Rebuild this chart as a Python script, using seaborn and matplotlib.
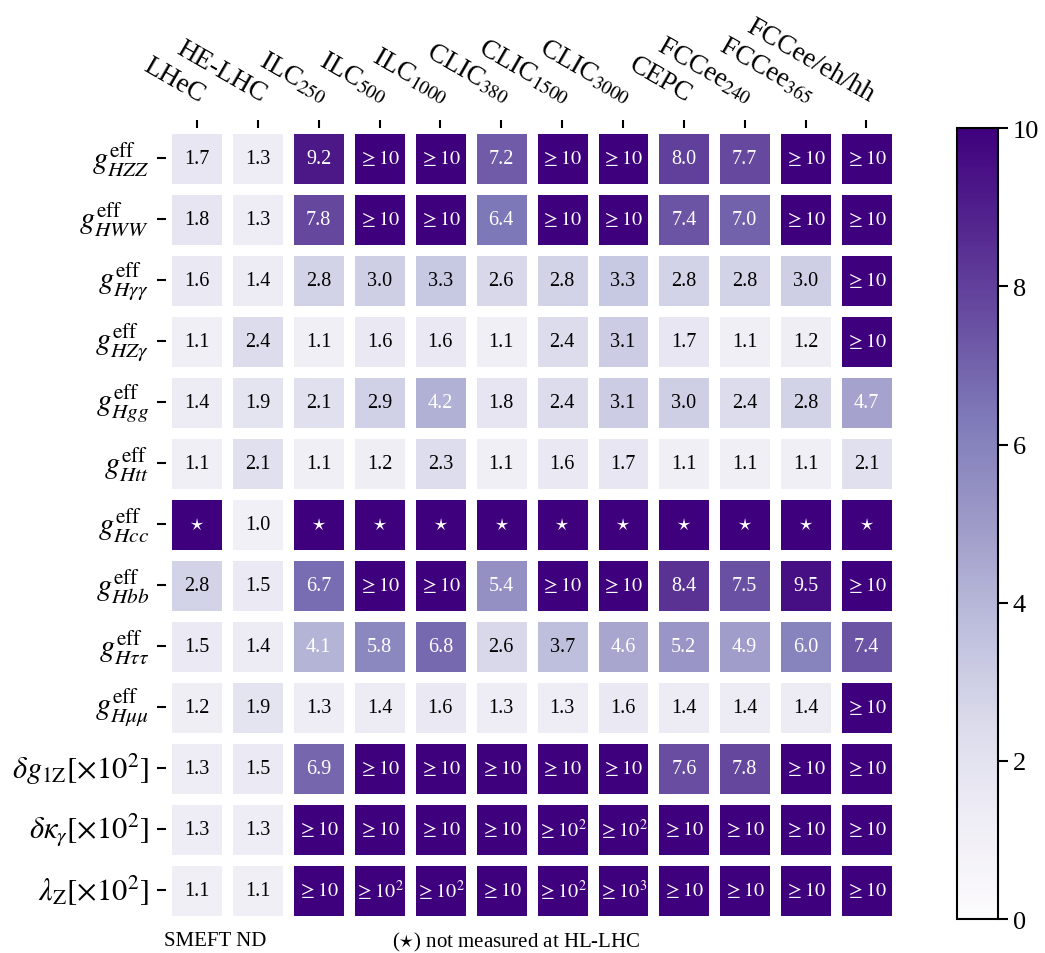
import numpy as np
import pandas as pd
import matplotlib
matplotlib.use('Agg')
import matplotlib.pyplot as plt
import seaborn as sns

plt.rcParams['font.family'] = ['Liberation Serif', 'DejaVu Serif']
plt.rcParams['mathtext.fontset'] = 'stix'

# colliders (columns)
colliders = ['LHeC', 'HE-LHC', r'ILC$_{250}$', r'ILC$_{500}$', r'ILC$_{1000}$',
             r'CLIC$_{380}$', r'CLIC$_{1500}$', r'CLIC$_{3000}$', 'CEPC',
             r'FCCee$_{240}$', r'FCCee$_{365}$', 'FCCee/eh/hh']

# couplings (rows)
couplings = [r'$g^{\rm eff}_{HZZ}$', r'$g^{\rm eff}_{HWW}$', r'$g^{\rm eff}_{H\gamma\gamma}$',
             r'$g^{\rm eff}_{HZ\gamma}$', r'$g^{\rm eff}_{Hgg}$', r'$g^{\rm eff}_{Htt}$',
             r'$g^{\rm eff}_{Hcc}$', r'$g^{\rm eff}_{Hbb}$', r'$g^{\rm eff}_{H\tau\tau}$',
             r'$g^{\rm eff}_{H\mu\mu}$', r'$\delta g_{\rm 1Z}[\times 10^2]$',
             r'$\delta \kappa_{\gamma}[\times 10^2]$', r'$\lambda_{\rm Z}[\times 10^2]$']

# improvement factor w.r.t. HL-LHC; 10/100/1000 mean ">= 10", ">= 10^2", ">= 10^3"
# nan = not measured at HL-LHC
N = np.nan
g_HZZ  = [1.7, 1.3, 9.2, 10, 10, 7.2, 10, 10, 8.0, 7.7, 10, 10]
g_HWW  = [1.8, 1.3, 7.8, 10, 10, 6.4, 10, 10, 7.4, 7.0, 10, 10]
g_Haa  = [1.6, 1.4, 2.8, 3.0, 3.3, 2.6, 2.8, 3.3, 2.8, 2.8, 3.0, 10]
g_HZa  = [1.1, 2.4, 1.1, 1.6, 1.6, 1.1, 2.4, 3.1, 1.7, 1.1, 1.2, 10]
g_Hgg  = [1.4, 1.9, 2.1, 2.9, 4.2, 1.8, 2.4, 3.1, 3.0, 2.4, 2.8, 4.7]
g_Htt  = [1.1, 2.1, 1.1, 1.2, 2.3, 1.1, 1.6, 1.7, 1.1, 1.1, 1.1, 2.1]
g_Hcc  = [N, 1.0, N, N, N, N, N, N, N, N, N, N]
g_Hbb  = [2.8, 1.5, 6.7, 10, 10, 5.4, 10, 10, 8.4, 7.5, 9.5, 10]
g_Htau = [1.5, 1.4, 4.1, 5.8, 6.8, 2.6, 3.7, 4.6, 5.2, 4.9, 6.0, 7.4]
g_Hmu  = [1.2, 1.9, 1.3, 1.4, 1.6, 1.3, 1.3, 1.6, 1.4, 1.4, 1.4, 10]
dg1Z   = [1.3, 1.5, 6.9, 10, 10, 10, 10, 10, 7.6, 7.8, 10, 10]
dkg    = [1.3, 1.3, 10, 10, 10, 10, 100, 100, 10, 10, 10, 10]
lamZ   = [1.1, 1.1, 10, 100, 100, 10, 100, 1000, 10, 10, 10, 10]

rows = [g_HZZ, g_HWW, g_Haa, g_HZa, g_Hgg, g_Htt, g_Hcc, g_Hbb, g_Htau, g_Hmu, dg1Z, dkg, lamZ]
vals = pd.DataFrame(rows, index=couplings, columns=colliders)


def label(v):
    if np.isnan(v):
        return r'$\star$'
    if v >= 1000:
        return r'$\geq 10^3$'
    if v >= 100:
        return r'$\geq 10^2$'
    if v >= 10:
        return r'$\geq 10$'
    return f'{v:.1f}'


labels = vals.apply(lambda c: c.map(label))
colour = vals.fillna(10).clip(upper=10)

fig = plt.figure(figsize=(10.45, 9.54), dpi=100)
ax = fig.add_axes([0.1593, 0.034, 0.699, 0.831])
cax = fig.add_axes([0.9158, 0.0356, 0.0392, 0.829])

sns.heatmap(colour, ax=ax, cbar_ax=cax, cmap='Purples', vmin=0, vmax=10,
            annot=labels.values, fmt='', annot_kws={'fontsize': 14.5},
            linewidths=6.5, linecolor='white')

# white text on dark cells
flat = vals.values.ravel()
for t, v in zip(ax.texts, flat):
    t.set_color('white' if (np.isnan(v) or v >= 4) else 'black')

ax.xaxis.tick_top()
ax.set_xticklabels(colliders, rotation=-30, ha='right', va='bottom',
                   rotation_mode='anchor', fontsize=19.5)
ax.set_yticklabels(couplings, rotation=0, fontsize=22)
ax.tick_params(axis='x', top=True, bottom=False, length=6, width=1.5, pad=9)
ax.tick_params(axis='y', left=True, length=6.5, width=1.5, pad=6)
ax.set_xlabel('')
ax.set_ylabel('')

cb = ax.collections[0].colorbar
cb.set_ticks([0, 2, 4, 6, 8, 10])
cb.ax.tick_params(labelsize=19, length=7, width=1.5)
cb.outline.set_visible(True)
cb.outline.set_linewidth(1.5)
cb.outline.set_edgecolor('black')

fig.text(215 / 1045, 1 - 942 / 954, 'SMEFT ND', ha='center', va='center', fontsize=15)
fig.text(516 / 1045, 1 - 942 / 954, r'($\star$) not measured at HL-LHC',
         ha='center', va='center', fontsize=15)

fig.savefig('out.png', dpi=100)
